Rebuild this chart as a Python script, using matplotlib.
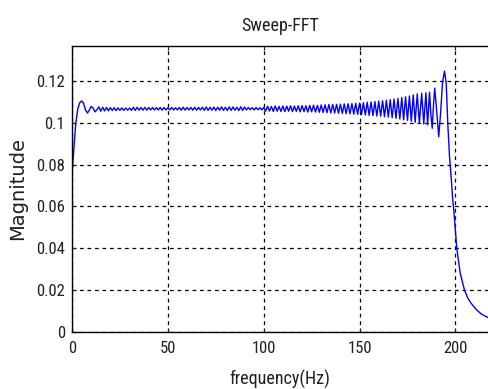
"""Sweep-FFT magnitude plot in a MATLAB-like style."""

import matplotlib
matplotlib.use("Agg")
import matplotlib.pyplot as plt
from matplotlib import font_manager

# (frequency in Hz, magnitude)
SWEEP_POINTS = [
    (0, 0.0750), (1, 0.0880), (2, 0.1000), (3, 0.1065), (4, 0.1095),
    (5, 0.1104), (6, 0.1094), (7, 0.1062), (8, 0.1046), (9, 0.1060),
    (10, 0.1078), (11, 0.1070), (12, 0.1052), (13, 0.1062), (14, 0.1076),
    (15, 0.1055), (16, 0.1074), (17, 0.1056), (18, 0.1073), (19, 0.1057),
    (20, 0.1072), (21, 0.1058), (22, 0.1072), (23, 0.1058), (24, 0.1071),
    (25, 0.1059), (26, 0.1071), (27, 0.1059), (28, 0.1070), (29, 0.1060),
    (30, 0.1070), (31, 0.1059), (32, 0.1074), (33, 0.1059), (34, 0.1074),
    (35, 0.1060), (36, 0.1073), (37, 0.1060), (38, 0.1073), (39, 0.1060),
    (40, 0.1073), (41, 0.1061), (42, 0.1073), (43, 0.1061), (44, 0.1072),
    (45, 0.1061), (46, 0.1073), (47, 0.1060), (48, 0.1073), (49, 0.1061),
    (50, 0.1072), (51, 0.1061), (52, 0.1073), (53, 0.1061), (54, 0.1072),
    (55, 0.1061), (56, 0.1073), (57, 0.1060), (58, 0.1074), (59, 0.1060),
    (60, 0.1073), (61, 0.1061), (62, 0.1073), (63, 0.1060), (64, 0.1074),
    (65, 0.1060), (66, 0.1073), (67, 0.1061), (68, 0.1074), (69, 0.1059),
    (70, 0.1075), (71, 0.1059), (72, 0.1074), (73, 0.1060), (74, 0.1075),
    (75, 0.1058), (76, 0.1074), (77, 0.1060), (78, 0.1076), (79, 0.1059),
    (80, 0.1074), (81, 0.1058), (82, 0.1076), (83, 0.1059), (84, 0.1075),
    (85, 0.1060), (86, 0.1074), (87, 0.1058), (88, 0.1076), (89, 0.1059),
    (90, 0.1075), (91, 0.1061), (92, 0.1073), (93, 0.1062), (94, 0.1072),
    (95, 0.1061), (96, 0.1073), (97, 0.1062), (98, 0.1072), (99, 0.1061),
    (100, 0.1073), (101, 0.1055), (102, 0.1079), (103, 0.1056), (104, 0.1078),
    (105, 0.1054), (106, 0.1080), (107, 0.1055), (108, 0.1078), (109, 0.1054),
    (110, 0.1080), (111, 0.1053), (112, 0.1079), (113, 0.1055), (114, 0.1081),
    (115, 0.1053), (116, 0.1080), (117, 0.1054), (118, 0.1081), (119, 0.1052),
    (120, 0.1082), (121, 0.1053), (122, 0.1081), (123, 0.1051), (124, 0.1083),
    (125, 0.1052), (126, 0.1084), (127, 0.1051), (128, 0.1083), (129, 0.1050),
    (130, 0.1085), (131, 0.1049), (132, 0.1086), (133, 0.1048), (134, 0.1087),
    (135, 0.1047), (136, 0.1088), (137, 0.1046), (138, 0.1088), (139, 0.1045),
    (140, 0.1089), (141, 0.1044), (142, 0.1090), (143, 0.1043), (144, 0.1091),
    (145, 0.1042), (146, 0.1092), (147, 0.1041), (148, 0.1093), (149, 0.1040),
    (150, 0.1094), (151, 0.1038), (152, 0.1096), (153, 0.1037), (154, 0.1098),
    (155, 0.1035), (156, 0.1099), (157, 0.1034), (158, 0.1101), (159, 0.1032),
    (160, 0.1103), (161, 0.1031), (162, 0.1105), (163, 0.1029), (164, 0.1107),
    (165, 0.1027), (166, 0.1110), (167, 0.1024), (168, 0.1113), (169, 0.1021),
    (170, 0.1116), (171, 0.1018), (172, 0.1120), (173, 0.1014), (174, 0.1124),
    (175, 0.1011), (176, 0.1128), (177, 0.1007), (178, 0.1133), (179, 0.1002),
    (180.1, 0.1138), (181.2, 0.0997), (182.4, 0.1141), (183.5, 0.0994),
    (184.6, 0.1143), (185.5, 0.0990), (186.5, 0.1146), (187.2, 0.1040),
    (187.9, 0.0973), (188.6, 0.1090), (189.2, 0.1165), (190.2, 0.1060),
    (191.3, 0.0933), (192.3, 0.1050), (193.3, 0.1195), (194.3, 0.1247),
    (195.2, 0.1190), (196.0, 0.1000), (196.9, 0.0840), (197.7, 0.0750),
    (198.6, 0.0630), (199.0, 0.0600), (200.7, 0.0400), (202.5, 0.0280),
    (204.7, 0.0200), (206.5, 0.0160), (208.2, 0.0136), (211.0, 0.0105),
    (213.5, 0.0085), (216.0, 0.0072), (217.5, 0.0066),
]

X_TICKS = [0, 50, 100, 150, 200]
Y_TICKS = [0, 0.02, 0.04, 0.06, 0.08, 0.1, 0.12]
Y_TICK_LABELS = ["0", "0.02", "0.04", "0.06", "0.08", "0.1", "0.12"]

# narrow sans like the squeezed MATLAB text, whichever is installed
installed = {f.name for f in font_manager.fontManager.ttflist}
FONT = [name for name in ("Liberation Sans Narrow", "DejaVu Sans Condensed",
                          "Roboto Condensed", "Open Sans Condensed")
        if name in installed] + ["DejaVu Sans"]

plt.rcParams.update({
    "font.family": FONT,
    "font.size": 12,
    "text.color": "#202020",
    "axes.labelcolor": "#202020",
    "xtick.color": "#202020",
    "ytick.color": "#202020",
})

freq = [p[0] for p in SWEEP_POINTS]
mag = [p[1] for p in SWEEP_POINTS]

fig = plt.figure(figsize=(4.88, 3.89), dpi=100)
ax = fig.add_axes([72 / 488, 1 - 331.7 / 389, 1 - 72 / 488, (331.7 - 46) / 389])

ax.plot(freq, mag, color="#0000ff", linewidth=1.0)

ax.set_xlim(0, 217)
ax.set_ylim(0, 0.1367)
ax.set_xticks(X_TICKS)
ax.set_xticklabels([str(t) for t in X_TICKS])
ax.set_yticks(Y_TICKS)
ax.set_yticklabels(Y_TICK_LABELS)

ax.grid(True, color="black", linestyle=(0, (3, 3)), linewidth=0.9)
ax.tick_params(direction="in", length=3, top=True, labelsize=12)
ax.tick_params(axis="x", pad=7)
ax.tick_params(axis="y", pad=5)
ax.spines["right"].set_visible(False)
for side in ("left", "bottom", "top"):
    ax.spines[side].set_linewidth(1.0)

ax.set_title("Sweep-FFT", fontsize=13, pad=11)
ax.set_xlabel("frequency(Hz)", fontsize=13, va="center")
ax.xaxis.set_label_coords((280 - 72) / 416, (331.7 - 379) / 285.7)
# the source image is squeezed sideways, so the vertical label reads wider
ax.set_ylabel("Magnitude", fontsize=14, family="DejaVu Sans", va="center")
ax.yaxis.set_label_coords((18 - 72) / 416, 0.5)

fig.savefig("out.png", dpi=100)
